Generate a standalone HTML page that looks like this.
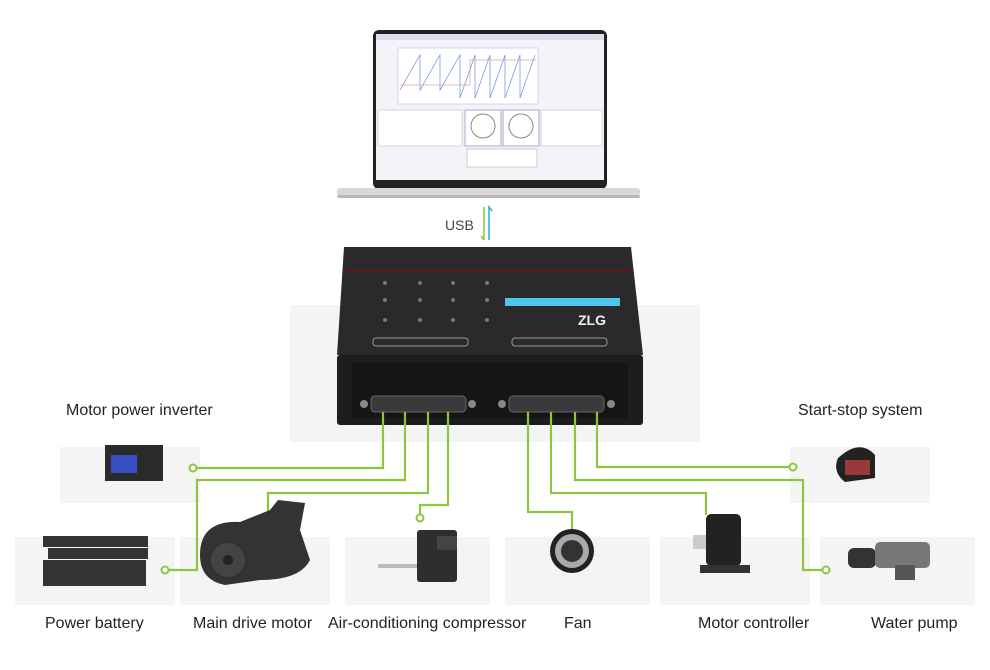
<!DOCTYPE html>
<html><head><meta charset="utf-8"><style>
body{margin:0;width:990px;height:670px;background:#fff;position:relative;overflow:hidden;font-family:"Liberation Sans",sans-serif}
.p{position:absolute;background:#f4f4f4}
.l{position:absolute;font-size:16px;color:#222;white-space:nowrap}
</style></head><body>
<div class="p" style="left:290px;top:305px;width:410px;height:137px"></div>
<div class="p" style="left:60px;top:447px;width:140px;height:56px"></div>
<div class="p" style="left:790px;top:447px;width:140px;height:56px"></div>
<div class="p" style="left:15px;top:537px;width:160px;height:68px"></div>
<div class="p" style="left:180px;top:537px;width:150px;height:68px"></div>
<div class="p" style="left:345px;top:537px;width:145px;height:68px"></div>
<div class="p" style="left:505px;top:537px;width:145px;height:68px"></div>
<div class="p" style="left:660px;top:537px;width:150px;height:68px"></div>
<div class="p" style="left:820px;top:537px;width:155px;height:68px"></div>

<svg width="990" height="670" style="position:absolute;left:0;top:0">
<rect x="373" y="30" width="234" height="159" rx="6" fill="#222"/>
<rect x="376" y="34" width="228" height="146" fill="#f4f4f8"/>
<rect x="376" y="34" width="228" height="6" fill="#dde"/>
<rect x="398" y="48" width="140" height="56" fill="#fff" stroke="#aac" stroke-width=".5"/>
<polyline points="400,90 420,55 420,90 440,55 440,90 460,55 460,98 475,55 475,98 490,55 490,98 505,55 505,98 520,55 520,98 535,55" fill="none" stroke="#6a8ee0" stroke-width=".7"/>
<polyline points="400,85 470,85 470,60 536,60" fill="none" stroke="#e99" stroke-width=".7"/>
<rect x="378" y="110" width="84" height="36" fill="#fff" stroke="#aac" stroke-width=".5"/>
<rect x="465" y="110" width="36" height="36" fill="#fff" stroke="#aac"/>
<circle cx="483" cy="126" r="12" fill="#fff" stroke="#888"/>
<rect x="503" y="110" width="36" height="36" fill="#fff" stroke="#aac"/>
<circle cx="521" cy="126" r="12" fill="#fff" stroke="#888"/>
<rect x="541" y="110" width="61" height="36" fill="#fff" stroke="#aac" stroke-width=".5"/>
<rect x="467" y="149" width="70" height="18" fill="#fff" stroke="#ccc"/>
<rect x="337" y="188" width="303" height="8" rx="3" fill="#d8d8dc"/>
<rect x="337" y="195" width="303" height="3" rx="2" fill="#b8b8bc"/>
<text x="445" y="230" font-family="Liberation Sans" font-size="14" fill="#444">USB</text>
<path d="M484 207 V240 M481 236 L484 240" stroke="#8cc63f" stroke-width="1.5" fill="none"/>
<path d="M489 240 V207 L492 211" stroke="#29abe2" stroke-width="1.5" fill="none"/>
<polygon points="344,247 631,247 643,355 337,355" fill="#2a2a2c"/>
<rect x="345" y="270" width="285" height="2" fill="#5a1a1a"/>
<rect x="337" y="355" width="306" height="70" rx="3" fill="#1d1d1f"/>
<rect x="352" y="363" width="276" height="55" fill="#151516"/>
<rect x="505" y="298" width="115" height="8" fill="#4cc6e8"/>
<text x="578" y="325" font-family="Liberation Sans" font-size="14" font-weight="bold" fill="#eee">ZLG</text>
<g fill="#777"><circle cx="385" cy="283" r="2"/><circle cx="420" cy="283" r="2"/><circle cx="453" cy="283" r="2"/><circle cx="487" cy="283" r="2"/>
<circle cx="385" cy="300" r="2"/><circle cx="420" cy="300" r="2"/><circle cx="453" cy="300" r="2"/><circle cx="487" cy="300" r="2"/>
<circle cx="385" cy="320" r="2"/><circle cx="420" cy="320" r="2"/><circle cx="453" cy="320" r="2"/><circle cx="487" cy="320" r="2"/></g>
<rect x="373" y="338" width="95" height="8" rx="3" fill="none" stroke="#999"/>
<rect x="512" y="338" width="95" height="8" rx="3" fill="none" stroke="#999"/>
<rect x="371" y="396" width="95" height="16" rx="4" fill="#3a3a3c" stroke="#666"/>
<rect x="509" y="396" width="95" height="16" rx="4" fill="#3a3a3c" stroke="#666"/>
<circle cx="364" cy="404" r="4" fill="#888"/><circle cx="472" cy="404" r="4" fill="#888"/>
<circle cx="502" cy="404" r="4" fill="#888"/><circle cx="611" cy="404" r="4" fill="#888"/>
<g fill="none" stroke="#8cc63f" stroke-width="2.2">
<polyline points="383,412 383,468 197,468"/>
<polyline points="405,412 405,480 197,480 197,570 169,570"/>
<polyline points="428,412 428,493 268,493 268,520"/>
<polyline points="448,412 448,505 420,505 420,514"/>
<polyline points="528,412 528,512 572,512 572,530"/>
<polyline points="551,412 551,493 706,493 706,515"/>
<polyline points="575,412 575,480 803,480 803,570 822,570"/>
<polyline points="597,412 597,467 789,467"/>
</g>
<g fill="#fff" stroke="#8cc63f" stroke-width="2"><circle cx="193" cy="468" r="3.5"/><circle cx="165" cy="570" r="3.5"/><circle cx="420" cy="518" r="3.5"/><circle cx="793" cy="467" r="3.5"/><circle cx="826" cy="570" r="3.5"/></g>
<rect x="105" y="445" width="58" height="36" fill="#2b2b2d"/>
<rect x="111" y="455" width="26" height="18" fill="#3a4fc0"/>
<g fill="#333"><rect x="43" y="536" width="105" height="11"/><rect x="48" y="548" width="100" height="11"/><rect x="43" y="560" width="103" height="26"/></g>
<path d="M200 555 Q200 520 240 522 L270 510 L278 500 L305 503 L300 530 L310 560 Q300 580 260 580 L225 585 Q200 580 200 555Z" fill="#333"/>
<circle cx="228" cy="560" r="17" fill="#444"/><circle cx="228" cy="560" r="5" fill="#222"/>
<rect x="378" y="564" width="42" height="4" fill="#bbb"/>
<rect x="417" y="530" width="40" height="52" rx="3" fill="#2e2e30"/>
<rect x="437" y="536" width="20" height="14" fill="#444"/>
<circle cx="572" cy="551" r="22" fill="#222"/><circle cx="572" cy="551" r="17" fill="#aaa"/><circle cx="572" cy="551" r="11" fill="#333"/>
<rect x="693" y="535" width="18" height="14" fill="#ccc"/>
<rect x="706" y="514" width="35" height="52" rx="5" fill="#222"/>
<rect x="700" y="565" width="50" height="8" fill="#333"/>
<path d="M838 458 Q860 438 875 455 L875 478 L845 482 Q832 472 838 458Z" fill="#222"/>
<rect x="845" y="460" width="25" height="15" fill="#c44" opacity=".7"/>
<rect x="848" y="548" width="28" height="20" rx="6" fill="#333"/>
<rect x="875" y="542" width="55" height="26" rx="5" fill="#777"/>
<rect x="895" y="565" width="20" height="15" fill="#555"/>
</svg>

<div class="l" style="left:66px;top:402px">Motor power inverter</div>
<div class="l" style="left:798px;top:402px">Start-stop system</div>
<div class="l" style="left:45px;top:615px">Power battery</div>
<div class="l" style="left:193px;top:615px">Main drive motor</div>
<div class="l" style="left:328px;top:615px">Air-conditioning compressor</div>
<div class="l" style="left:564px;top:615px">Fan</div>
<div class="l" style="left:698px;top:615px">Motor controller</div>
<div class="l" style="left:871px;top:615px">Water pump</div>
</body></html>
